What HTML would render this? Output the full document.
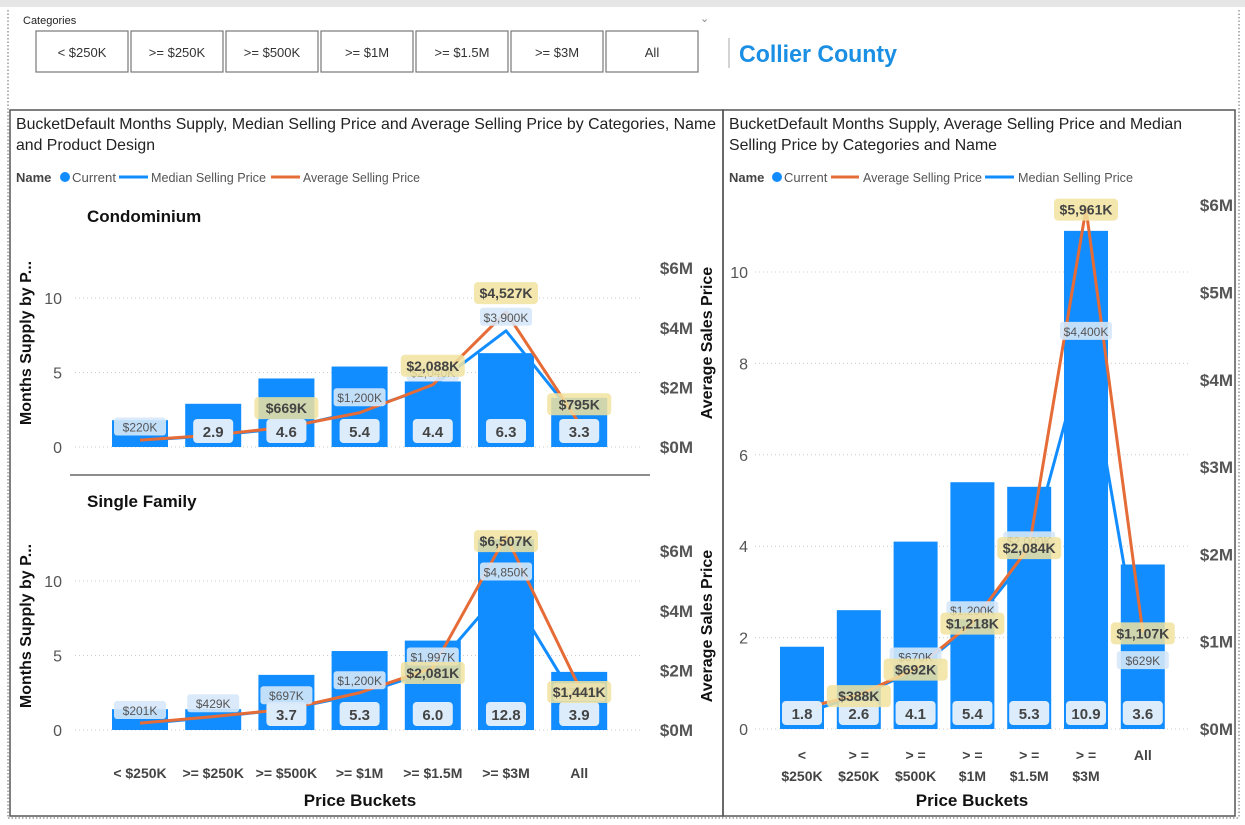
<!DOCTYPE html>
<html><head><meta charset="utf-8">
<style>
html,body{margin:0;padding:0;background:#fff;}
svg{display:block;font-family:"Liberation Sans",sans-serif;}
.btn{fill:#fff;stroke:#777;stroke-width:1.2}
</style></head>
<body>
<svg id="root" width="1245" height="825" viewBox="0 0 1245 825">
  <rect x="0" y="0" width="1245" height="7" fill="#e6e6e6"/>
  <line x1="8" y1="10" x2="8" y2="818" stroke="#666" stroke-dasharray="1.5,2"/>
  <line x1="1239" y1="10" x2="1239" y2="818" stroke="#666" stroke-dasharray="1.5,2"/>
  <line x1="8" y1="818" x2="1239" y2="818" stroke="#666" stroke-dasharray="1.5,2"/>
  <text x="23" y="24" font-size="11" fill="#222">Categories</text>
  <text x="700" y="22" font-size="11" fill="#888">⌄</text>
  <g id="slicer"></g>
  <line x1="729" y1="38" x2="729" y2="68" stroke="#aaa"/>
  <text x="739" y="62" font-size="24" font-weight="bold" fill="#1a8fe3" textLength="158" lengthAdjust="spacingAndGlyphs">Collier County</text>

  <rect x="10" y="110" width="713" height="706" fill="none" stroke="#555" stroke-width="1.5"/>
  <rect x="723" y="110" width="512" height="706" fill="none" stroke="#555" stroke-width="1.5"/>

  <text x="16" y="129" font-size="16" fill="#222" textLength="700" lengthAdjust="spacingAndGlyphs">BucketDefault Months Supply, Median Selling Price and Average Selling Price by Categories, Name</text>
  <text x="16" y="150" font-size="16" fill="#222" textLength="139" lengthAdjust="spacingAndGlyphs">and Product Design</text>
  <g>
    <text x="16" y="182" font-size="13" font-weight="bold" fill="#444">Name</text>
    <circle cx="65" cy="177" r="5" fill="#118dff"/>
    <text x="72" y="182" font-size="13" fill="#555" textLength="44" lengthAdjust="spacingAndGlyphs">Current</text>
    <line x1="119" y1="177" x2="148" y2="177" stroke="#118dff" stroke-width="3"/>
    <text x="151" y="182" font-size="13" fill="#555" textLength="115" lengthAdjust="spacingAndGlyphs">Median Selling Price</text>
    <line x1="271" y1="177" x2="300" y2="177" stroke="#e66c37" stroke-width="3"/>
    <text x="303" y="182" font-size="13" fill="#555" textLength="117" lengthAdjust="spacingAndGlyphs">Average Selling Price</text>
  </g>
  <text x="729" y="129" font-size="16" fill="#222" textLength="453" lengthAdjust="spacingAndGlyphs">BucketDefault Months Supply, Average Selling Price and Median</text>
  <text x="729" y="150" font-size="16" fill="#222" textLength="268" lengthAdjust="spacingAndGlyphs">Selling Price by Categories and Name</text>
  <g>
    <text x="729" y="182" font-size="13" font-weight="bold" fill="#444">Name</text>
    <circle cx="777" cy="177" r="5" fill="#118dff"/>
    <text x="784" y="182" font-size="13" fill="#555">Current</text>
    <line x1="831" y1="177" x2="859" y2="177" stroke="#e66c37" stroke-width="3"/>
    <text x="863" y="182" font-size="13" fill="#555" textLength="119" lengthAdjust="spacingAndGlyphs">Average Selling Price</text>
    <line x1="985" y1="177" x2="1014" y2="177" stroke="#118dff" stroke-width="3"/>
    <text x="1018" y="182" font-size="13" fill="#555" textLength="115" lengthAdjust="spacingAndGlyphs">Median Selling Price</text>
  </g>
  <line x1="70" y1="475" x2="650" y2="475" stroke="#666" stroke-width="1.5"/>
  <text x="87" y="222" font-size="17" font-weight="bold" fill="#111">Condominium</text>
  <text x="87" y="507" font-size="17" font-weight="bold" fill="#111">Single Family</text>
  <text x="360" y="806" font-size="17" font-weight="bold" text-anchor="middle" fill="#111">Price Buckets</text>
  <text x="972" y="806" font-size="17" font-weight="bold" text-anchor="middle" fill="#111">Price Buckets</text>
  <g id="charts"></g>
</svg>
<script>
const NS='http://www.w3.org/2000/svg';
const charts=document.getElementById('charts');
function mk(tag,attrs,parent,txt){const e=document.createElementNS(NS,tag);for(const k in attrs)e.setAttribute(k,attrs[k]);if(txt!==undefined)e.textContent=txt;(parent||charts).appendChild(e);return e;}

const slicerLabels=['< $250K','>= $250K','>= $500K','>= $1M','>= $1.5M','>= $3M','All'];
const slicer=document.getElementById('slicer');
slicerLabels.forEach((l,i)=>{
  const x=36+i*95;
  const r=mk('rect',{x:x,y:31,width:92,height:41,class:'btn'},slicer);
  
  
  const t=mk('text',{x:x+46,y:57,'font-size':13,'text-anchor':'middle',fill:'#333'},slicer,l);
  
  
});

const categories=['< $250K','>= $250K','>= $500K','>= $1M','>= $1.5M','>= $3M','All'];
const condoSupply=[1.8,2.9,4.6,5.4,4.4,6.3,3.3];
const condoAvg=[230,400,669,1150,2088,4527,795];
const condoMedian=[220,380,640,1200,2040,3900,850];
const sfSupply=[1.4,1.4,3.7,5.3,6.0,12.8,3.9];
const sfAvg=[230,450,697,1250,2081,6507,1441];
const sfMedian=[201,429,697,1200,1997,4850,799];
const allSupply=[1.8,2.6,4.1,5.4,5.3,10.9,3.6];
const allAvg=[240,388,692,1218,2084,5961,1107];
const allMedian=[180,380,670,1200,2000,4400,629];
const leftTicks=[0,5,10];
const leftPriceTicks=[0,2,4,6];
const rightTicks=[0,2,4,6,8,10];
const rightPriceTicks=[0,1,2,3,4,5,6];
const avgLabelIdxCondo=[2,4,5,6], medLabelIdxCondo=[0,3,4,5];
const avgLabelIdxSf=[4,5,6], medLabelIdxSf=[0,1,2,3,4,5,6];
const avgLabelIdxAll=[1,2,3,4,5,6], medLabelIdxAll=[2,3,4,5,6];

function fmtK(v){return '$'+Math.round(v).toLocaleString('en-US')+'K';}

function drawChart(o){
  const g=mk('g',{});
  
  
  const y=v=>o.y0-v*o.ppu;
  const yp=v=>o.y0-v/1000*o.ppm;
  const x=i=>o.x0+i*o.step;
  o.ticks.forEach(t=>{
    const gl=mk('line',{x1:o.gx1,x2:o.gx2,y1:y(t),y2:y(t),stroke:'#ccc','stroke-dasharray':'1,3'},g);
    
    
    const tl=mk('text',{x:o.tickX,y:y(t)+6,'font-size':16,'text-anchor':'end',fill:'#555'},g,String(t));
    
    
  });
  o.pticks.forEach(t=>{
    const tl=mk('text',{x:o.ptickX,y:yp(t*1000)+6,'font-size':17,'font-weight':'bold','text-anchor':'end',fill:'#555'},g,'$'+t+'M');
    
    
  });
  o.supply.forEach((v,i)=>{
    const b=mk('rect',{x:x(i)-o.bw/2,y:y(v),width:o.bw,height:o.y0-y(v),fill:'#118dff'},g);
    
    
  });
  const line=(arr,col,nm)=>{
    const p=mk('polyline',{points:arr.map((v,i)=>x(i)+','+yp(v)).join(' '),fill:'none',stroke:col,'stroke-width':3,'stroke-linejoin':'round'},g);
    
    
  };
  line(o.median,'#118dff','median-line');
  line(o.avg,'#e66c37','average-line');
  o.supply.forEach((v,i)=>{
    if(v<o.minSupplyLabel) return;
    const r=mk('rect',{x:x(i)-20,y:o.y0-28,width:40,height:24,rx:4,fill:'#dcecfb'},g);
    
    
    const t=mk('text',{x:x(i),y:o.y0-10,'font-size':15,'font-weight':'bold','text-anchor':'middle',fill:'#444'},g,v.toFixed(1));
    
    
  });
  o.medIdx.forEach(i=>{
    const w=52;
    const r=mk('rect',{x:x(i)-w/2,y:yp(o.median[i])-23,width:w,height:18,rx:3,fill:'#d6e8fa','fill-opacity':0.9},g);
    
    
    const t=mk('text',{x:x(i),y:yp(o.median[i])-9,'font-size':12,'text-anchor':'middle',fill:'#555'},g,fmtK(o.median[i]));
    
    
  });
  o.avgIdx.forEach(i=>{
    const w=64;
    const r=mk('rect',{x:x(i)-w/2,y:yp(o.avg[i])-o.avgOff-16,width:w,height:22,rx:4,fill:'#f1e3a0','fill-opacity':0.85},g);
    
    
    const t=mk('text',{x:x(i),y:yp(o.avg[i])-o.avgOff,'font-size':14,'font-weight':'bold','text-anchor':'middle',fill:'#444'},g,fmtK(o.avg[i]));
    
    
  });
  if(o.ytitle){
    const t=mk('text',{x:0,y:0,'font-size':16,'font-weight':'bold','text-anchor':'middle',fill:'#111',transform:`translate(${o.ytX},${o.ytY}) rotate(-90)`},g,o.ytitle);
    
    
    const t2=mk('text',{x:0,y:0,'font-size':16,'font-weight':'bold','text-anchor':'middle',fill:'#111',transform:`translate(${o.y2X},${o.ytY}) rotate(-90)`},g,'Average Sales Price');
    
    
  }
  if(o.xlab==='single'){
    categories.forEach((c,i)=>{
      const t=mk('text',{x:x(i),y:o.xlY,'font-size':14,'font-weight':'bold','text-anchor':'middle',fill:'#444'},g,c);
      
      
    });
  } else if(o.xlab==='wrap'){
    categories.forEach((c,i)=>{
      const parts=c.indexOf(' ')>0?[c.split(' ')[0].split('').join(' '),c.split(' ')[1]]:[c];
      parts.forEach((p,k)=>{
        const t=mk('text',{x:x(i),y:o.xlY+k*21,'font-size':14,'font-weight':'bold','text-anchor':'middle',fill:'#444'},g,p);
        
        
      });
    });
  }
}

drawChart({name:'condominium-chart',supply:condoSupply,avg:condoAvg,median:condoMedian,medIdx:medLabelIdxCondo,avgIdx:avgLabelIdxCondo,
  y0:447,ppu:14.9,ppm:29.8,x0:140,step:73.2,bw:56,gx1:75,gx2:640,ticks:leftTicks,pticks:leftPriceTicks,tickX:62,ptickX:693,
  ytitle:'Months Supply by P...',ytX:31,ytY:343,y2X:712,avgOff:14,xlab:null,minSupplyLabel:2});
drawChart({name:'single-family-chart',supply:sfSupply,avg:sfAvg,median:sfMedian,medIdx:medLabelIdxSf,avgIdx:avgLabelIdxSf,
  y0:730,ppu:14.9,ppm:29.8,x0:140,step:73.2,bw:56,gx1:75,gx2:640,ticks:leftTicks,pticks:leftPriceTicks,tickX:62,ptickX:693,
  ytitle:'Months Supply by P...',ytX:31,ytY:626,y2X:712,avgOff:-10,xlab:'single',xlY:778,minSupplyLabel:2});
drawChart({name:'collier-all-chart',supply:allSupply,avg:allAvg,median:allMedian,medIdx:medLabelIdxAll,avgIdx:avgLabelIdxAll,
  y0:729,ppu:45.7,ppm:87.3,x0:802,step:56.8,bw:44,gx1:755,gx2:1190,ticks:rightTicks,pticks:rightPriceTicks,tickX:748,ptickX:1233,
  ytitle:null,avgOff:-6,xlab:'wrap',xlY:760,minSupplyLabel:0});
</script>
</body></html>
